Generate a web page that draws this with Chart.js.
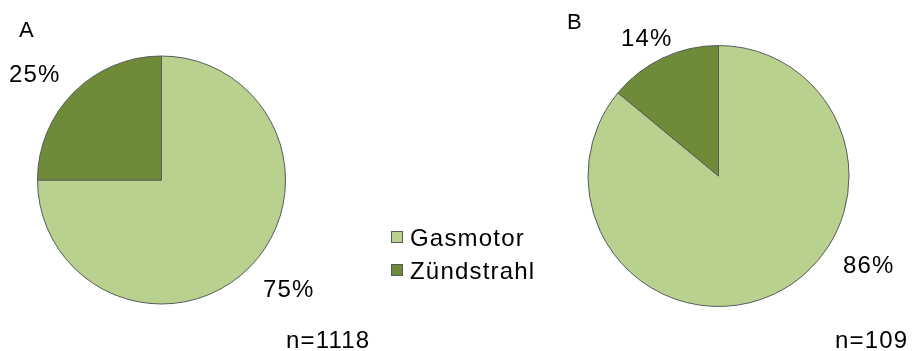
<!DOCTYPE html>
<html>
<head>
<meta charset="utf-8">
<script src="https://cdn.jsdelivr.net/npm/chart.js@4.4.1/dist/chart.umd.min.js"></script>
<style>
  html, body { margin: 0; padding: 0; background: #fff; }
  #wrap { position: relative; width: 913px; height: 351px; }
  #wrap canvas { position: absolute; left: 0; top: 0; }
</style>
</head>
<body>
<div id="wrap">
  <canvas id="pieA" width="913" height="351"></canvas>
  <canvas id="pieB" width="913" height="351"></canvas>
</div>
<script>
const kategorien = ['Gasmotor', 'Zündstrahl'];
const anteileA = [75, 25];
const anteileB = [86, 14];
const nA = 1118;
const nB = 109;
const farben = ['#B9D18E', '#6E8B3A'];
const rand = '#595959';
const schrift = '"Liberation Sans", Arial, sans-serif';

// beschriftet die Torte: Buchstabe, Prozentwerte, Stichprobengröße
const textPlugin = {
    id: 'texte',
    afterDraw(chart, args, opts) {
        const ctx = chart.ctx;
        const werte = chart.data.datasets[0].data;
        ctx.save();
        ctx.fillStyle = '#000';
        ctx.textBaseline = 'alphabetic';
        ctx.textAlign = 'left';
        ctx.font = '22px ' + schrift;
        ctx.fillText(opts.buchstabe, opts.buchstabePos[0], opts.buchstabePos[1]);
        ctx.font = '24px ' + schrift;
        ctx.letterSpacing = '1.2px';
        werte.forEach((v, i) => {
            const p = opts.prozentPos[i];
            ctx.fillText(v + '%', p[0], p[1]);
        });
        ctx.fillText('n=' + opts.n, opts.nPos[0], opts.nPos[1]);

        if (opts.legende) {
            chart.data.labels.forEach((lab, i) => {
                const y = 231 + i * 33;
                ctx.fillStyle = chart.data.datasets[0].backgroundColor[i];
                ctx.fillRect(391, y, 12, 12);
                ctx.strokeStyle = rand;
                ctx.lineWidth = 1;
                ctx.strokeRect(391.5, y + 0.5, 11, 11);
                ctx.fillStyle = '#000';
                ctx.fillText(lab, 410, y + 14.5);
            });
        }
        ctx.restore();
    }
};

function torte(id, werte, radius, padding, texte) {
    new Chart(document.getElementById(id), {
        type: 'pie',
        data: {
            labels: kategorien,
            datasets: [{
                data: werte,
                backgroundColor: farben,
                borderColor: rand,
                borderWidth: 1
            }]
        },
        options: {
            responsive: false,
            animation: false,
            radius: radius,
            layout: { padding: padding },
            plugins: {
                legend: { display: false },
                tooltip: { enabled: false },
                texte: texte
            }
        },
        plugins: [textPlugin]
    });
}

torte('pieA', anteileA, 124, { left: 0, right: 590, top: 9, bottom: 0 }, {
    buchstabe: 'A', buchstabePos: [19, 36.5],
    prozentPos: [[263, 296.5], [9, 81.5]],
    n: nA, nPos: [286, 348],
    legende: true
});

torte('pieB', anteileB, 130.5, { left: 524, right: 0, top: 1, bottom: 0 }, {
    buchstabe: 'B', buchstabePos: [567, 29],
    prozentPos: [[843, 273], [621, 45.5]],
    n: nB, nPos: [835, 348],
    legende: false
});
</script>
</body>
</html>
